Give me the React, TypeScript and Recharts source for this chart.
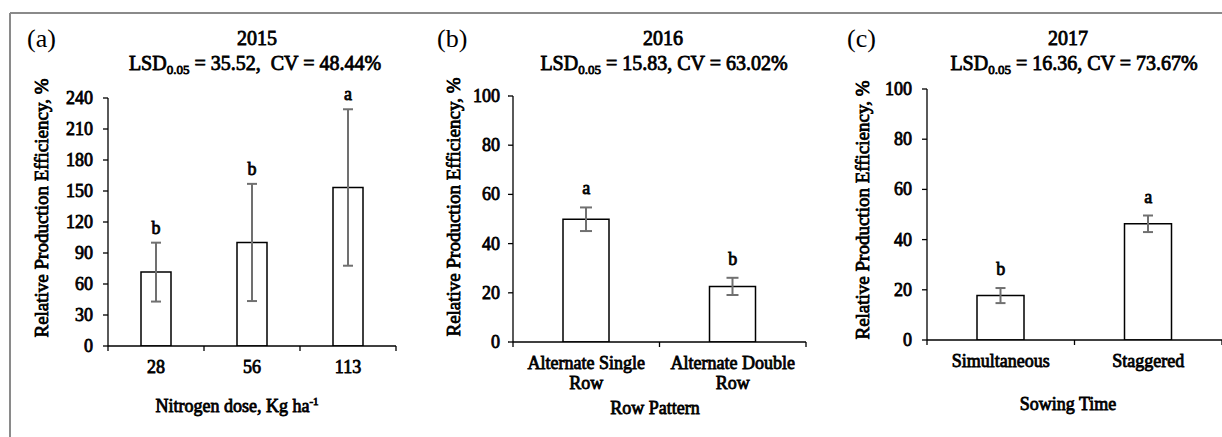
import React from "react";
import { ComposedChart, Bar, Line, XAxis, YAxis, ErrorBar, LabelList } from "recharts";

const FONT = "Liberation Serif";

// Panel (a) 2015
const nitrogenDoses = ["28", "56", "113"];
const rpe2015 = [71.5, 100.2, 153.4];
const err2015 = [28.5, 56.7, 75.7];
const letters2015 = ["b", "b", "a"];
const ticks2015 = [0, 30, 60, 90, 120, 150, 180, 210, 240];

// Panel (b) 2016
const rowPatterns = ["Alternate Single Row", "Alternate Double Row"];
const rowPatternTickLines = [["Alternate Single", "Row"], ["Alternate Double", "Row"]];
const rpe2016 = [49.9, 22.6];
const err2016 = [4.8, 3.5];
const letters2016 = ["a", "b"];
const ticks2016 = [0, 20, 40, 60, 80, 100];

// Panel (c) 2017
const sowingTimes = ["Simultaneous", "Staggered"];
const rpe2017 = [17.7, 46.3];
const err2017 = [3.0, 3.3];
const letters2017 = ["b", "a"];
const ticks2017 = [0, 20, 40, 60, 80, 100];

// faux-bold serif (regular face thickened with a thin stroke)
const B = { fontFamily: FONT, fontWeight: 400, fill: "#000", stroke: "#000", strokeWidth: 0.8 } as const;

function build(cats: string[], vals: number[], errs: number[], letters: string[]) {
  return cats.map((c, i) => ({
    cat: c,
    value: vals[i],
    err: errs[i],
    top: vals[i] + errs[i],
    letter: letters[i],
  }));
}

const makeXTick = (bw: number, count: number, lines: string[][]) => (props: any) => {
  const { x, y, index } = props;
  const ls = lines[index] || [String(props.payload?.value ?? "")];
  return (
    <g>
      <line x1={x - bw / 2} x2={x - bw / 2} y1={y} y2={y + 5} stroke="#000" strokeWidth={1.3} />
      {index === count - 1 && (
        <line x1={x + bw / 2} x2={x + bw / 2} y1={y} y2={y + 5} stroke="#000" strokeWidth={1.3} />
      )}
      <text x={x} y={y + 27} textAnchor="middle" fontSize={18} {...B}>
        {ls.map((l, i) => (
          <tspan key={i} x={x} dy={i === 0 ? 0 : 20}>
            {l}
          </tspan>
        ))}
      </text>
    </g>
  );
};

const YTick = (props: any) => {
  const { x, y, payload } = props;
  return (
    <text x={x} y={y + 6} textAnchor="end" fontSize={18} {...B}>
      {payload.value}
    </text>
  );
};

const makeLetter = (offset: number) => (props: any) => {
  const { x, y, value } = props;
  return (
    <text x={x} y={y - offset} textAnchor="middle" fontSize={18} {...B}>
      {value}
    </text>
  );
};

type PanelProps = {
  data: any[];
  left: number;
  width: number;
  margin: { top: number; right: number; bottom: number; left: number };
  domain: [number, number];
  ticks: number[];
  barSize: number;
  capWidth: number;
  letterOffset: number;
  tickLines: string[][];
  tickMargin: number;
};

function Panel(p: PanelProps) {
  const yAxisWidth = 60;
  const plotW = p.width - p.margin.left - p.margin.right - yAxisWidth;
  const bw = plotW / p.data.length;
  return (
    <div style={{ position: "absolute", left: p.left, top: 0, width: p.width, height: 437 }}>
      <ComposedChart width={p.width} height={437} data={p.data} margin={p.margin}>
        <XAxis
          dataKey="cat"
          type="category"
          height={30}
          axisLine={{ stroke: "#000", strokeWidth: 1.3 }}
          tickLine={false}
          tickSize={0}
          tickMargin={0}
          interval={0}
          tick={makeXTick(bw, p.data.length, p.tickLines)}
        />
        <YAxis
          width={yAxisWidth}
          domain={p.domain}
          ticks={p.ticks}
          type="number"
          allowDataOverflow
          axisLine={{ stroke: "#000", strokeWidth: 1.3 }}
          tickLine={{ stroke: "#000", strokeWidth: 1.3 }}
          tickSize={5}
          tickMargin={p.tickMargin}
          interval={0}
          tick={YTick}
        />
        <Bar dataKey="value" fill="#fff" stroke="#000" strokeWidth={1.5} barSize={p.barSize} isAnimationActive={false}>
          <ErrorBar dataKey="err" direction="y" width={p.capWidth} strokeWidth={2} stroke="#707070" />
        </Bar>
        <Line
          dataKey="top"
          stroke="none"
          dot={false}
          activeDot={false}
          legendType="none"
          isAnimationActive={false}
        >
          <LabelList dataKey="letter" content={makeLetter(p.letterOffset)} />
        </Line>
      </ComposedChart>
    </div>
  );
}

function Title({ x, tag, yearX, lsdX, year, lsd, cv, sep }: any) {
  return (
    <g>
      <text x={x} y={47} fontFamily={FONT} fontSize={26} fill="#000">
        {tag}
      </text>
      <text x={yearX} y={45} textAnchor="middle" fontSize={20} {...B}>
        {year}
      </text>
      <text x={lsdX} y={70} textAnchor="middle" fontSize={20} {...B} style={{ whiteSpace: "pre" }}>
        LSD
        <tspan fontSize={13} dy={4}>
          0.05
        </tspan>
        <tspan dy={-4}>{` = ${lsd},${sep}CV = ${cv}%`}</tspan>
      </text>
    </g>
  );
}

function YLabel({ x, y }: { x: number; y: number }) {
  return (
    <text x={x} y={y} textAnchor="middle" fontSize={19} {...B} transform={`rotate(-90, ${x}, ${y})`}>
      Relative Production Efficiency, %
    </text>
  );
}

export default function App() {
  const d2015 = build(nitrogenDoses, rpe2015, err2015, letters2015);
  const d2016 = build(rowPatterns, rpe2016, err2016, letters2016);
  const d2017 = build(sowingTimes, rpe2017, err2017, letters2017);
  return (
    <div style={{ position: "absolute", left: 0, top: 0, width: 1222, height: 437, background: "#fff", overflow: "hidden" }}>
      <Panel
        data={d2015}
        left={0}
        width={405}
        margin={{ top: 98, right: 9, bottom: 61, left: 48 }}
        domain={[0, 240]}
        ticks={ticks2015}
        barSize={30}
        capWidth={5}
        letterOffset={9}
        tickLines={nitrogenDoses.map((c) => [c])}
        tickMargin={10}
      />
      <Panel
        data={d2016}
        left={405}
        width={410}
        margin={{ top: 96, right: 9, bottom: 65, left: 48 }}
        domain={[0, 100]}
        ticks={ticks2016}
        barSize={46}
        capWidth={6}
        letterOffset={13}
        tickLines={rowPatternTickLines}
        tickMargin={8}
      />
      <Panel
        data={d2017}
        left={815}
        width={407}
        margin={{ top: 89, right: 0, bottom: 67, left: 52 }}
        domain={[0, 100]}
        ticks={ticks2017}
        barSize={47}
        capWidth={5}
        letterOffset={13}
        tickLines={sowingTimes.map((c) => [c])}
        tickMargin={10}
      />
      <svg width={1222} height={437} style={{ position: "absolute", left: 0, top: 0, pointerEvents: "none" }}>
        <line x1={10} y1={13} x2={1222} y2={13} stroke="#8a8a8a" strokeWidth={2} />
        <line x1={10} y1={13} x2={10} y2={437} stroke="#8a8a8a" strokeWidth={2} />
        <Title x={27} tag="(a)" yearX={257} lsdX={255} year="2015" lsd="35.52" cv="48.44" sep="  " />
        <Title x={437} tag="(b)" yearX={663} lsdX={664} year="2016" lsd="15.83" cv="63.02" sep=" " />
        <Title x={847} tag="(c)" yearX={1068} lsdX={1074} year="2017" lsd="16.36" cv="73.67" sep=" " />
        <YLabel x={48} y={208} />
        <YLabel x={460} y={207} />
        <YLabel x={869} y={210} />
        <text x={237} y={412} textAnchor="middle" fontSize={18} {...B}>
          Nitrogen dose, Kg ha
          <tspan fontSize={11} dy={-7}>
            -1
          </tspan>
        </text>
        <text x={655} y={414} textAnchor="middle" fontSize={18} {...B}>
          Row Pattern
        </text>
        <text x={1068} y={410} textAnchor="middle" fontSize={18} {...B}>
          Sowing Time
        </text>
      </svg>
    </div>
  );
}
